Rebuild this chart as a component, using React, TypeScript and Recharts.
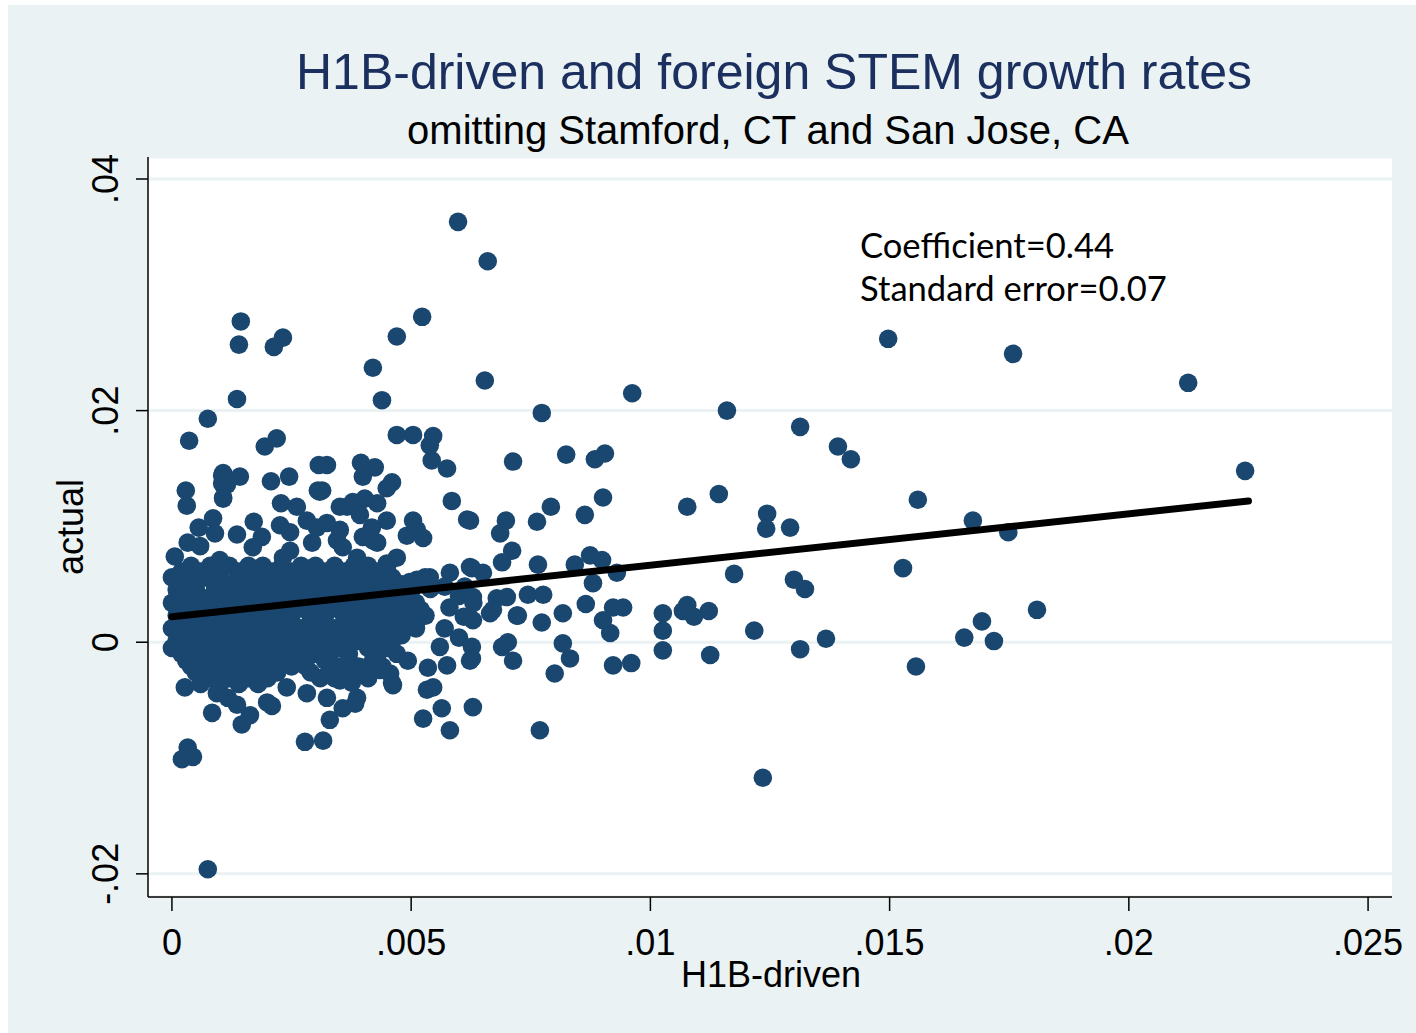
import { CartesianGrid, Scatter, ScatterChart, XAxis, YAxis } from "recharts"

// Stata-style scatter: H1B-driven vs actual foreign STEM growth, with the OLS fit on top.
const NAVY = "#1a476f"
const GRAPH_BG = "#eaf2f3"
const SANS = "'Liberation Sans', Arial, sans-serif"

const xTicks = [0, 0.005, 0.01, 0.015, 0.02, 0.025]
const yTicks = [-0.02, 0, 0.02, 0.04]

// dense core of the cloud, read row by row
const coreRowY = [0.0066, 0.0056, 0.0045, 0.0034, 0.0023, 0.0012, 0.0001, -0.001, -0.0021, -0.0031]
const coreRowX = [
  [0.0004, 0.0008, 0.0012, 0.0016, 0.0019, 0.0023, 0.0027, 0.003, 0.0034, 0.0038, 0.0041, 0.0045],
  [0.0, 0.0003, 0.0007, 0.001, 0.0014, 0.0017, 0.0021, 0.0024, 0.0028, 0.0031, 0.0035, 0.0038, 0.0042, 0.0046],
  [0.0001, 0.0005, 0.0009, 0.0012, 0.0015, 0.0019, 0.0022, 0.0026, 0.0029, 0.0033, 0.0036, 0.0039, 0.0043, 0.0047, 0.005],
  [0.0, 0.0003, 0.0006, 0.001, 0.0013, 0.0017, 0.002, 0.0024, 0.0027, 0.003, 0.0034, 0.0037, 0.0041, 0.0044, 0.0048, 0.0051],
  [0.0001, 0.0005, 0.0008, 0.0012, 0.0015, 0.0019, 0.0022, 0.0025, 0.0029, 0.0032, 0.0036, 0.0039, 0.0043, 0.0046, 0.005, 0.0053],
  [0.0, 0.0003, 0.0006, 0.001, 0.0013, 0.0017, 0.002, 0.0024, 0.0027, 0.0031, 0.0034, 0.0038, 0.0041, 0.0045, 0.0048, 0.0051],
  [0.0001, 0.0004, 0.0008, 0.0011, 0.0015, 0.0018, 0.0022, 0.0025, 0.0029, 0.0032, 0.0036, 0.0039, 0.0043, 0.0046],
  [0.0002, 0.0005, 0.0009, 0.0012, 0.0016, 0.0019, 0.0023, 0.0026, 0.003, 0.0033, 0.0037, 0.0043, 0.0047],
  [0.0004, 0.0007, 0.0011, 0.0014, 0.0018, 0.0021, 0.0025, 0.0028, 0.0035, 0.0039, 0.0044],
  [0.0008, 0.0012, 0.0016, 0.002, 0.0031, 0.0034, 0.0041],
]

// in-between rows that close the gaps in the core
const fillRowY = [0.0061, 0.005, 0.0039, 0.0028, 0.0017, 0.0006, -0.0005, -0.0016, -0.0026, -0.0036]
const fillRowX = [
  [0.0002, 0.0006, 0.001, 0.0014, 0.0018, 0.0021, 0.0025, 0.0029, 0.0032, 0.0036, 0.004, 0.0043],
  [0.0002, 0.0005, 0.0009, 0.0012, 0.0016, 0.0019, 0.0023, 0.0026, 0.003, 0.0033, 0.0037, 0.004, 0.0044, 0.0048],
  [0.0002, 0.0005, 0.0008, 0.0011, 0.0015, 0.0018, 0.0022, 0.0025, 0.0028, 0.0032, 0.0035, 0.0039, 0.0042, 0.0046, 0.0049],
  [0.0002, 0.0004, 0.0008, 0.0011, 0.0014, 0.0018, 0.0021, 0.0025, 0.0028, 0.0031, 0.0035, 0.0038, 0.0042, 0.0045, 0.0049, 0.0052],
  [0.0002, 0.0004, 0.0008, 0.0011, 0.0015, 0.0018, 0.0022, 0.0025, 0.0029, 0.0032, 0.0036, 0.004, 0.0044, 0.0047, 0.0051],
  [0.0002, 0.0005, 0.0009, 0.0012, 0.0016, 0.0019, 0.0023, 0.0026, 0.003, 0.0033, 0.0037, 0.004, 0.0044, 0.0048],
  [0.0, 0.0003, 0.0007, 0.001, 0.0014, 0.0017, 0.0021, 0.0024, 0.0028, 0.0031, 0.0035, 0.0041, 0.0045],
  [0.0003, 0.0006, 0.001, 0.0013, 0.0017, 0.002, 0.0024, 0.0027, 0.0032, 0.0037, 0.0042],
  [0.0005, 0.0009, 0.0013, 0.0017, 0.0022, 0.0029, 0.0033, 0.0038],
  [0.0006, 0.001, 0.0014, 0.0018],
]

const upperCloud: [number, number][] = [
  [0.00136, 0.021], [0.00075, 0.0193], [0.00036, 0.0174], [0.00194, 0.0169], [0.00219, 0.0176],
  [0.00105, 0.0144], [0.00142, 0.0143], [0.00207, 0.0139], [0.00245, 0.0143], [0.00029, 0.0131],
  [0.00031, 0.0118], [0.00107, 0.0125], [0.00115, 0.0136], [0.00228, 0.012], [0.00261, 0.0117],
  [0.00307, 0.0153], [0.00305, 0.0131], [0.00056, 0.0099], [0.00086, 0.0107], [0.0009, 0.0094],
  [0.00136, 0.0093], [0.00171, 0.0104], [0.00188, 0.0091], [0.00226, 0.0101], [0.00033, 0.0086],
  [0.00059, 0.0083], [0.00006, 0.0074], [0.00169, 0.0082], [0.00247, 0.0079], [0.00293, 0.0086],
  [0.00439, 0.0209], [0.0047, 0.0179], [0.00504, 0.0179], [0.00546, 0.0178], [0.00539, 0.017],
  [0.00543, 0.0157], [0.00575, 0.015], [0.00324, 0.0153], [0.00395, 0.0155], [0.00424, 0.0151],
  [0.00399, 0.0143], [0.0046, 0.0138], [0.00449, 0.0133], [0.00314, 0.0131], [0.00585, 0.0122],
  [0.00617, 0.0106], [0.00366, 0.0117], [0.00403, 0.0124], [0.00429, 0.012], [0.00387, 0.0116],
  [0.00449, 0.0105], [0.00418, 0.0099], [0.00399, 0.0091], [0.00351, 0.0097], [0.00303, 0.0099],
  [0.00504, 0.0105], [0.00512, 0.0097], [0.00525, 0.009], [0.00491, 0.0092], [0.00429, 0.0086],
  [0.0047, 0.0073], [0.00449, 0.0068], [0.00357, 0.0082], [0.00387, 0.0073], [0.00581, 0.006],
  [0.00623, 0.0065], [0.00529, 0.0056], [0.00497, 0.0052], [0.00107, 0.0146], [0.00105, 0.0137],
  [0.00107, 0.0124], [0.00309, 0.013], [0.00351, 0.0117], [0.00378, 0.0121], [0.00393, 0.011],
  [0.00282, 0.0105], [0.00324, 0.0103], [0.00247, 0.0095], [0.001, 0.0071], [0.00232, 0.0073],
  [0.00345, 0.0088], [0.0042, 0.0088], [0.00449, 0.006], [0.00512, 0.0054], [0.00539, 0.0056],
  [0.0057, 0.0048], [0.006, 0.004], [0.0058, 0.003], [0.0061, 0.0022], [0.0057, 0.0012],
  [0.006, 0.0004], [0.0056, -0.0004], [0.0063, 0.0034], [0.0054, 0.0046],
]

const peaks: [number, number][] = [
  [0.00598, 0.0363], [0.0066, 0.0329], [0.00144, 0.0277], [0.0014, 0.0257], [0.00232, 0.0263],
  [0.00213, 0.0255], [0.00523, 0.0281], [0.0047, 0.0264], [0.00654, 0.0226], [0.0042, 0.0237],
  [0.00773, 0.0198], [0.00962, 0.0215],
]

const midRange: [number, number][] = [
  [0.00713, 0.0156], [0.00824, 0.0162], [0.00884, 0.0158], [0.00905, 0.0163], [0.00901, 0.0125],
  [0.00792, 0.0117], [0.00863, 0.011], [0.00763, 0.0104], [0.00698, 0.0105], [0.00686, 0.0094],
  [0.00711, 0.0079], [0.0069, 0.0069], [0.00765, 0.0067], [0.00842, 0.0067], [0.00874, 0.0075],
  [0.00899, 0.0071], [0.0093, 0.006], [0.0088, 0.0051], [0.00679, 0.0038], [0.00744, 0.0041],
  [0.00776, 0.0041], [0.00817, 0.0025], [0.00865, 0.0033], [0.00922, 0.003], [0.00943, 0.003],
  [0.00901, 0.0019], [0.00916, 0.0008], [0.00773, 0.0017], [0.00817, -0.0001], [0.00832, -0.0014],
  [0.008, -0.0027], [0.00922, -0.002], [0.0096, -0.0018], [0.00713, -0.0016], [0.0069, -0.0004],
  [0.00702, 0.0], [0.00721, 0.0023], [0.00665, 0.0025], [0.00629, 0.0019], [0.00627, -0.0014],
  [0.00627, -0.0004], [0.00623, 0.0105], [0.00627, 0.0064], [0.0065, 0.006], [0.00671, 0.0028],
  [0.00612, 0.0048], [0.00629, 0.0039], [0.007, 0.0039], [0.00723, 0.0023],
]

const lowerCloud: [number, number][] = [
  [0.00033, -0.0091], [0.00021, -0.0101], [0.00044, -0.0099], [0.00075, -0.0196], [0.00084, -0.0061],
  [0.00146, -0.0071], [0.00163, -0.0063], [0.00136, -0.0054], [0.00209, -0.0055], [0.00199, -0.0052],
  [0.00278, -0.0086], [0.00316, -0.0085], [0.0033, -0.0067], [0.00357, -0.0057], [0.00383, -0.0053],
  [0.00387, -0.0048], [0.00399, -0.0022], [0.00351, -0.0033], [0.0046, -0.0035], [0.00456, -0.0027],
  [0.00533, -0.0041], [0.00546, -0.0039], [0.00525, -0.0066], [0.00564, -0.0057], [0.00581, -0.0076],
  [0.00535, -0.0022], [0.00575, -0.002], [0.00623, -0.0016], [0.00493, -0.0016], [0.00027, -0.0039],
  [0.00629, -0.0056], [0.00769, -0.0076], [0.00094, -0.0044], [0.00117, -0.0048], [0.0024, -0.0039],
  [0.00282, -0.0044], [0.00324, -0.0048], [0.00351, -0.0027], [0.00376, -0.0035], [0.00408, -0.0024],
  [0.00435, -0.0024], [0.00462, -0.0037],
]

const rightTail: [number, number][] = [
  [0.01497, 0.0262], [0.01758, 0.0249], [0.02124, 0.0224], [0.02243, 0.0148], [0.0116, 0.02],
  [0.01313, 0.0186], [0.01392, 0.0169], [0.01419, 0.0158], [0.01559, 0.0123], [0.01674, 0.0105],
  [0.01748, 0.0095], [0.01528, 0.0064], [0.01808, 0.0028], [0.01693, 0.0018], [0.01656, 0.0004],
  [0.01718, 0.0001], [0.01555, -0.0021], [0.01077, 0.0117], [0.01143, 0.0128], [0.01244, 0.0111],
  [0.01242, 0.0098], [0.01292, 0.0099], [0.01175, 0.0059], [0.013, 0.0054], [0.01323, 0.0046],
  [0.01077, 0.0032], [0.01068, 0.0027], [0.01091, 0.0022], [0.01122, 0.0027], [0.01217, 0.001],
  [0.01313, -0.0006], [0.01367, 0.0003], [0.01125, -0.0011], [0.01235, -0.0117], [0.01026, 0.0025],
  [0.01026, 0.001], [0.01026, -0.0007],
]

// fitted line endpoints (coef 0.44)
const fitX = [0, 0.0225]
const fitY = [0.0022, 0.0122]

const rowsToPoints = (ys: number[], xs: number[][]) => xs.flatMap((row, i) => row.map((x) => ({ x, y: ys[i] })))
const points = [
  ...rowsToPoints(coreRowY, coreRowX),
  ...rowsToPoints(fillRowY, fillRowX),
  ...[...upperCloud, ...peaks, ...midRange, ...lowerCloud, ...rightTail].map(([x, y]) => ({ x, y })),
]
const fitLine = fitX.map((x, i) => ({ x, y: fitY[i] }))

const fmtTick = (v: number) => (v === 0 ? "0" : String(v).replace("0.", "."))

function XTick(props: any) {
  const { x, payload } = props
  return (
    <text x={x} y={950} textAnchor="middle" fontSize={36} fontFamily={SANS} fill="#000">
      {fmtTick(payload.value)}
    </text>
  )
}

function YTick(props: any) {
  const { y, payload } = props
  return (
    <text x={110} y={y} transform={`rotate(-90 110 ${y})`} textAnchor="middle" fontSize={36} fontFamily={SANS} fill="#000">
      {fmtTick(payload.value)}
    </text>
  )
}

const dot = (p: any) => <circle cx={p.cx} cy={p.cy} r={9.3} fill={NAVY} />

export default function App() {
  return (
    <div style={{ position: "absolute", left: 8, top: 5, width: 1408, height: 1028, background: GRAPH_BG }}>
      <ScatterChart width={1408} height={1028} margin={{ top: 152, right: 24, left: 0, bottom: 0 }}>
        <CartesianGrid vertical={false} fill="#fff" stroke={GRAPH_BG} strokeWidth={3} />
        <XAxis
          type="number"
          dataKey="x"
          domain={[-0.0005, 0.0255]}
          ticks={xTicks}
          allowDataOverflow
          height={136}
          tickSize={14}
          stroke="#000"
          strokeWidth={1.5}
          tick={<XTick />}
        />
        <YAxis
          type="number"
          dataKey="y"
          domain={[-0.022, 0.0419]}
          ticks={yTicks}
          allowDataOverflow
          width={140}
          tickSize={12}
          stroke="#000"
          strokeWidth={1.5}
          tick={<YTick />}
        />
        <Scatter data={points} fill={NAVY} shape={dot} isAnimationActive={false} />
        <Scatter
          data={fitLine}
          line={{ stroke: "#000", strokeWidth: 7, strokeLinecap: "round" }}
          shape={() => <g />}
          isAnimationActive={false}
        />
      </ScatterChart>
      <svg width={1408} height={1028} style={{ position: "absolute", left: 0, top: 0, pointerEvents: "none" }}>
        <text x={766} y={84} textAnchor="middle" fontSize={50} fontFamily={SANS} fill="#1c3060">
          H1B-driven and foreign STEM growth rates
        </text>
        <text x={760} y={139} textAnchor="middle" fontSize={40} fontFamily={SANS} fill="#000">
          omitting Stamford, CT and San Jose, CA
        </text>
        <text x={763} y={982} textAnchor="middle" fontSize={36} fontFamily={SANS} fill="#000">
          H1B-driven
        </text>
        <text x={75} y={522} transform="rotate(-90 75 522)" textAnchor="middle" fontSize={36} fontFamily={SANS} fill="#000">
          actual
        </text>
        <text x={852} y={253} fontSize={34.6} fontFamily="Lato, sans-serif" fill="#000">
          Coefficient=0.44
        </text>
        <text x={852} y={296} fontSize={34.6} fontFamily="Lato, sans-serif" fill="#000">
          Standard error=0.07
        </text>
      </svg>
    </div>
  )
}
